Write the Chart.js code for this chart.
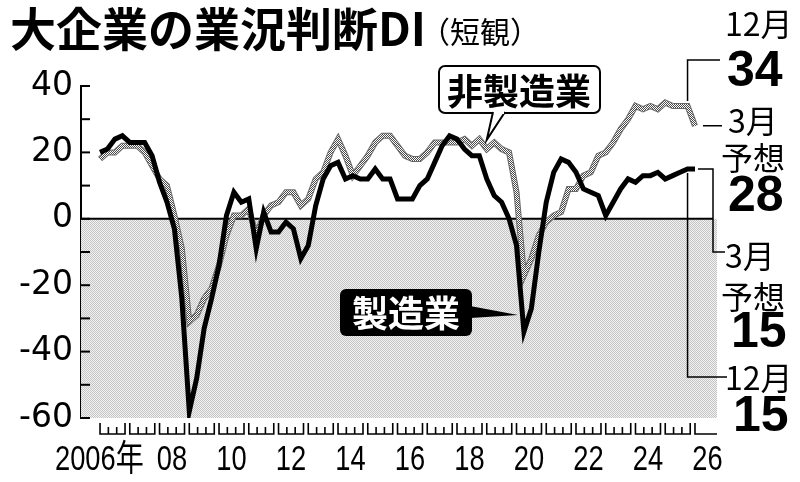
<!DOCTYPE html>
<html>
<head>
<meta charset="utf-8">
<script src="https://cdn.jsdelivr.net/npm/chart.js@4.4.1/dist/chart.umd.min.js"></script>
<style>
body{margin:0;background:#fff}
#wrap{width:800px;height:482px;position:relative}
</style>
</head>
<body>
<div id="wrap"><canvas id="myChart" width="800" height="482"></canvas></div>
<script>
// 大企業 業況判断DI, quarterly from 2006年3月 to 2025年12月, last value = 2026年3月予想
var startYear = 2006;
var yearLabels = ['2006年', '08', '10', '12', '14', '16', '18', '20', '22', '24', '26'];
var labelYears = [2006, 2008, 2010, 2012, 2014, 2016, 2018, 2020, 2022, 2024, 2026];
var yTicks = [40, 20, 0, -20, -40, -60];

var manufacturing = [
	20, 21, 24, 25,  23, 23, 23, 19,  11, 5, -3, -24,  -58, -48, -33, -24,
	-14, 1, 8, 5,  6, -9, 2, -4,  -4, -1, -3, -12,  -8, 4, 12, 16,
	17, 12, 13, 12,  12, 15, 12, 12,  6, 6, 6, 10,  12, 17, 22, 25,
	24, 21, 19, 19,  12, 7, 5, 0,  -8, -34, -27, -10,  5, 14, 18, 17,
	14, 9, 8, 7,  1, 5, 9, 12,  11, 13, 13, 14,  12, 13, 14, 15,
	15
];
var nonManufacturing = [
	18, 20, 20, 22,  22, 22, 20, 16,  12, 10, 1, -9,  -31, -29, -24, -21,
	-14, -5, 1, 1,  3, -5, 1, 4,  5, 8, 8, 4,  6, 12, 14, 20,
	24, 19, 13, 16,  19, 23, 25, 25,  22, 19, 18, 18,  20, 23, 23, 23,
	23, 24, 22, 24,  21, 23, 21, 20,  8, -17, -12, -5,  -1, 1, 2, 9,
	9, 13, 14, 19,  20, 23, 27, 30,  34, 33, 34, 33,  35, 34, 34, 34,
	28
];

function toPoints(arr) {
	return arr.map(function (v, i) { return {x: startYear + i / 4, y: v}; });
}

function makePattern(a, b, cell) {
	var c = document.createElement('canvas');
	c.width = cell * 2; c.height = cell * 2;
	var g = c.getContext('2d');
	g.fillStyle = b; g.fillRect(0, 0, cell * 2, cell * 2);
	g.fillStyle = a; g.fillRect(0, 0, cell, cell); g.fillRect(cell, cell, cell, cell);
	return document.getElementById('myChart').getContext('2d').createPattern(c, 'repeat');
}

var shade = makePattern('#c4c4c4', '#f2f2f2', 1);
var grayLine = makePattern('#4a4a4a', '#ffffff', 1);

var JP = '"Noto Sans CJK JP", "Noto Sans", sans-serif';
var NUM = '"Liberation Sans", Arial, sans-serif';

var decorPlugin = {
	id: 'decor',
	beforeDatasetsDraw: function (chart) {
		var ctx = chart.ctx, a = chart.chartArea, y = chart.scales.y;
		var y0 = y.getPixelForValue(0);
		ctx.save();
		ctx.fillStyle = shade;
		ctx.fillRect(a.left, y0, a.right - a.left, a.bottom - y0);
		ctx.strokeStyle = '#000';
		ctx.lineWidth = 2;
		ctx.beginPath();
		ctx.moveTo(a.left, y0); ctx.lineTo(a.right - 4, y0);
		ctx.stroke();
		// inward y ticks
		for (var v = -60; v <= 40; v += 10) {
			var py = y.getPixelForValue(v);
			ctx.beginPath();
			ctx.moveTo(a.left, py); ctx.lineTo(a.left + 9, py);
			ctx.stroke();
		}
		ctx.restore();
	},
	afterDatasetsDraw: function (chart) {
		var ctx = chart.ctx, a = chart.chartArea, y = chart.scales.y, x = chart.scales.x;
		ctx.save();
		// x axis year groups
		ctx.strokeStyle = '#000';
		ctx.lineWidth = 1.6;
		var top = a.bottom + 5, base = a.bottom + 16;
		for (var yr = startYear; yr <= 2025; yr++) {
			var l = x.getPixelForValue(yr), r = x.getPixelForValue(yr + 0.84);
			ctx.beginPath();
			ctx.moveTo(l, top); ctx.lineTo(l, base); ctx.lineTo(r, base); ctx.lineTo(r, top);
			var m1 = x.getPixelForValue(yr + 0.28), m2 = x.getPixelForValue(yr + 0.56);
			ctx.moveTo(m1, top + 4); ctx.lineTo(m1, base);
			ctx.moveTo(m2, top + 4); ctx.lineTo(m2, base);
			ctx.stroke();
		}
		var l26 = x.getPixelForValue(2026);
		ctx.beginPath();
		ctx.moveTo(l26, top); ctx.lineTo(l26, base); ctx.lineTo(a.right, base);
		ctx.stroke();

		// year labels (condensed)
		ctx.fillStyle = '#000';
		ctx.textBaseline = 'alphabetic';
		labelYears.forEach(function (yr, i) {
			var cx = x.getPixelForValue(yr + 0.42);
			ctx.save();
			if (i === 0) {
				ctx.translate(55, 470);
				ctx.scale(0.78, 1);
				ctx.textAlign = 'left';
				ctx.font = '35px ' + NUM;
				var w1 = ctx.measureText('2006').width;
				ctx.fillText('2006', 0, 0);
				ctx.font = '36px ' + JP;
				ctx.fillText('年', w1, 1);
			} else {
				ctx.translate(cx, 470);
				ctx.scale(0.78, 1);
				ctx.textAlign = 'center';
				ctx.font = '35px ' + NUM;
				ctx.fillText(yearLabels[i], 0, 0);
			}
			ctx.restore();
		});

		// end connectors
		var xd = x.getPixelForValue(2025.75), xf = x.getPixelForValue(2026);
		ctx.lineWidth = 1.5;
		ctx.beginPath();
		ctx.moveTo(xd, y.getPixelForValue(nonManufacturing[79]) - 5); ctx.lineTo(xd, 60); ctx.lineTo(720, 60);
		ctx.moveTo(xf + 8, y.getPixelForValue(nonManufacturing[80])); ctx.lineTo(722, y.getPixelForValue(nonManufacturing[80]));
		ctx.moveTo(xf + 3, y.getPixelForValue(manufacturing[80])); ctx.lineTo(713, y.getPixelForValue(manufacturing[80])); ctx.lineTo(713, 252); ctx.lineTo(725, 252);
		ctx.moveTo(xd, y.getPixelForValue(manufacturing[79]) + 4); ctx.lineTo(xd, 377); ctx.lineTo(727, 377);
		ctx.stroke();

		ctx.textAlign = 'left';
		ctx.font = '32px ' + JP;
		ctx.fillText('12月', 725, 36);
		ctx.fillText('3月', 728, 133);
		ctx.fillText('予想', 721, 170);
		ctx.fillText('3月', 725, 268);
		ctx.fillText('予想', 721, 309);
		ctx.fillText('12月', 725, 390);
		ctx.font = 'bold 50px ' + NUM;
		ctx.fillText(String(nonManufacturing[79]), 727, 86);
		ctx.fillText(String(nonManufacturing[80]), 728, 211);
		ctx.fillText(String(manufacturing[80]), 731, 347);
		ctx.fillText(String(manufacturing[79]), 733, 431);

		// callouts
		function rr(x0, y0, w, h, r) {
			ctx.beginPath();
			ctx.moveTo(x0 + r, y0);
			ctx.arcTo(x0 + w, y0, x0 + w, y0 + h, r);
			ctx.arcTo(x0 + w, y0 + h, x0, y0 + h, r);
			ctx.arcTo(x0, y0 + h, x0, y0, r);
			ctx.arcTo(x0, y0, x0 + w, y0, r);
			ctx.closePath();
		}
		// 非製造業
		var px2 = x.getPixelForValue(2019.0), py2 = y.getPixelForValue(22);
		ctx.fillStyle = '#fff';
		ctx.strokeStyle = '#000';
		ctx.lineWidth = 2;
		rr(439, 66, 161, 47, 6);
		ctx.fill(); ctx.stroke();
		ctx.beginPath();
		ctx.moveTo(493, 112); ctx.lineTo(px2, py2 - 6); ctx.lineTo(505, 112);
		ctx.fill(); ctx.stroke();
		ctx.fillRect(494, 109, 10, 5);
		ctx.fillStyle = '#000';
		ctx.font = 'bold 36px ' + JP;
		ctx.textAlign = 'center';
		ctx.textBaseline = 'middle';
		ctx.fillText('非製造業', 519, 91);
		// 製造業
		var px1 = x.getPixelForValue(2020.25) - 6, py1 = y.getPixelForValue(-29);
		rr(340, 289, 132, 47, 6);
		ctx.fill();
		ctx.beginPath();
		ctx.moveTo(470, 306); ctx.lineTo(px1, py1); ctx.lineTo(470, 318);
		ctx.fill();
		ctx.fillStyle = '#fff';
		ctx.fillText('製造業', 406, 313);
		ctx.restore();
	}
};

var titlePlugin = {
	id: 'titleText',
	afterDraw: function (chart) {
		var ctx = chart.ctx;
		ctx.save();
		ctx.fillStyle = '#000';
		ctx.textAlign = 'left';
		ctx.textBaseline = 'alphabetic';
		ctx.font = 'bold 46px ' + JP;
		ctx.fillText('大企業の業況判断DI', 10, 46);
		var w = ctx.measureText('大企業の業況判断DI').width;
		ctx.font = '30px ' + JP;
		ctx.fillText('（短観）', 10 + w - 6, 43);
		ctx.restore();
	}
};

var ctx = document.getElementById('myChart').getContext('2d');
var myChart = new Chart(ctx, {
	type: 'line',
	data: {
		datasets: [{
			label: '製造業',
			data: toPoints(manufacturing),
			borderColor: '#000',
			borderWidth: 5,
			pointRadius: 0,
			tension: 0,
			borderJoinStyle: 'miter'
		}, {
			label: '非製造業',
			data: toPoints(nonManufacturing),
			borderColor: grayLine,
			borderWidth: 4,
			pointRadius: 0,
			tension: 0
		}, {
			// dark edge under the 非製造業 line
			label: '非製造業edge',
			data: toPoints(nonManufacturing),
			borderColor: '#6a6a6a',
			borderWidth: 6,
			pointRadius: 0,
			tension: 0
		}]
	},
	options: {
		responsive: false,
		animation: false,
		layout: {padding: {left: 0, right: 83, top: 86, bottom: 64}},
		plugins: {legend: {display: false}, tooltip: {enabled: false}},
		scales: {
			x: {
				type: 'linear',
				display: false,
				min: 2005.36,
				max: 2026.74
			},
			y: {
				min: -60,
				max: 40,
				afterFit: function (s) { s.width = 81; },
				grid: {display: false, drawTicks: false},
				border: {display: true, color: '#000', width: 2},
				ticks: {
					stepSize: 20,
					padding: 8,
					color: '#000',
					font: {family: 'DejaVu Sans', size: 33},
					callback: function (v) { return yTicks.indexOf(v) >= 0 ? String(v) : ''; }
				}
			}
		}
	},
	plugins: [decorPlugin, titlePlugin]
});
</script>
</body>
</html>
